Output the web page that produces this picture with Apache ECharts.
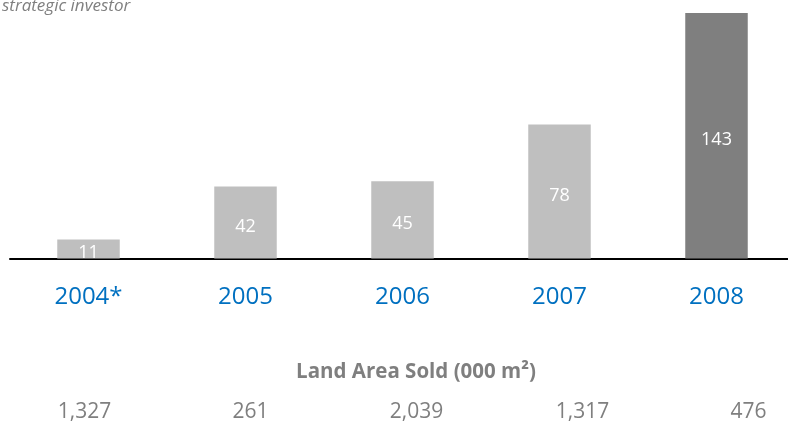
<!DOCTYPE html>
<html>
<head>
<meta charset="utf-8">
<script src="https://cdn.jsdelivr.net/npm/echarts@6/dist/echarts.min.js"></script>
<style>
html,body{margin:0;padding:0;background:#fff;}
#chart{width:788px;height:422px;}
</style>
</head>
<body>
<div id="chart"></div>
<script>
const categories = ['2004*', '2005', '2006', '2007', '2008'];
const revenue = [11, 42, 45, 78, 143];
const landAreaSold = ['1,327', '261', '2,039', '1,317', '476'];
const landTitle = 'Land Area Sold (000 m\u00B2)';
const subtitle = 'strategic investor';

const FONT = '"Open Sans", sans-serif';
const chart = echarts.init(document.getElementById('chart'), null, {renderer: 'canvas'});
chart.setOption({
  animation: false,
  backgroundColor: '#ffffff',
  grid: [
    {left: 10, width: 785, top: 1, height: 257.5, containLabel: false, outerBoundsMode: 'none'},
    {left: 1.5, width: 830, top: 398, height: 1, containLabel: false, outerBoundsMode: 'none'}
  ],
  xAxis: [
    {
      type: 'category', gridIndex: 0, data: categories,
      axisLine: {show: true, lineStyle: {color: '#000000', width: 2}},
      axisTick: {show: false},
      axisLabel: {color: '#0070C0', fontSize: 24, fontFamily: FONT, margin: 27}
    },
    {
      type: 'category', gridIndex: 1, data: landAreaSold,
      axisLine: {show: false}, axisTick: {show: false}, splitLine: {show: false},
      axisLabel: {color: '#7F7F7F', fontSize: 21, fontFamily: FONT, margin: 3}
    }
  ],
  yAxis: [
    {type: 'value', gridIndex: 0, min: 0, max: 150, show: false},
    {type: 'value', gridIndex: 1, show: false}
  ],
  graphic: [
    {type: 'text', left: 2, top: -2, style: {text: subtitle, fill: '#7F7F7F', font: 'italic 17px ' + FONT}},
    {type: 'text', x: 416, y: 372, style: {text: landTitle, fill: '#7F7F7F', font: 'bold 20.5px ' + FONT, textAlign: 'center', textVerticalAlign: 'middle'}}
  ],
  series: [
    {
      type: 'bar', xAxisIndex: 0, yAxisIndex: 0, data: revenue, barWidth: 62.5,
      itemStyle: {color: p => p.dataIndex === revenue.length - 1 ? '#7F7F7F' : '#BFBFBF'},
      label: {show: true, position: 'inside', offset: [0, 4], color: '#ffffff', fontSize: 18, fontFamily: FONT},
      z: 1
    }
  ]
});
</script>
</body>
</html>
